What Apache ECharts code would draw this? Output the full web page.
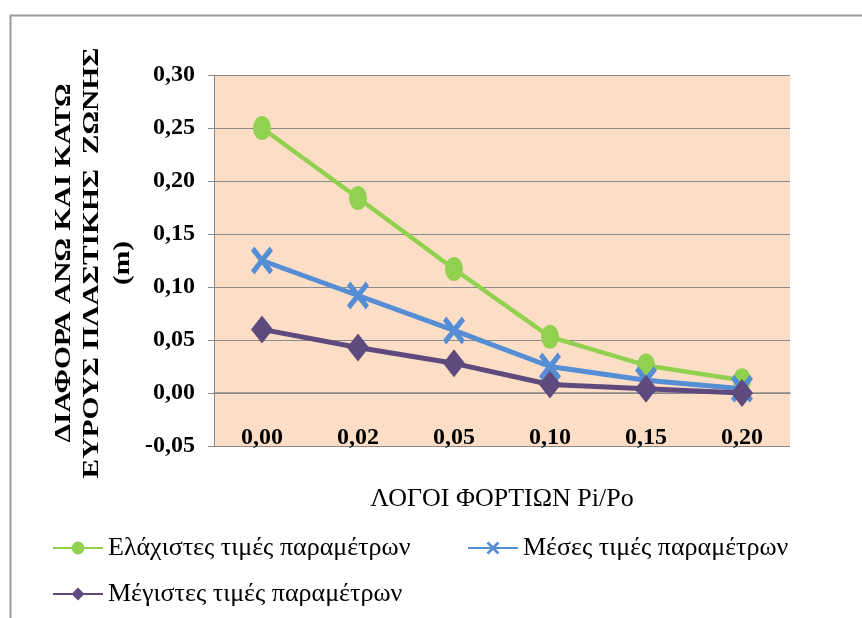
<!DOCTYPE html>
<html>
<head>
<meta charset="utf-8">
<style>
  html, body { margin: 0; padding: 0; background: #ffffff; }
  #chart { width: 862px; height: 618px; }
</style>
<script src="https://cdn.jsdelivr.net/npm/echarts@6/dist/echarts.min.js"></script>
</head>
<body>
<div id="chart"></div>
<script>
// Load ratio categories Pi/Po
const categories = ['0,00', '0,02', '0,05', '0,10', '0,15', '0,20'];

// Difference between upper and lower plastic-zone width (m)
const minParams = [0.250, 0.184, 0.117, 0.053, 0.026, 0.012];
const meanParams = [0.125, 0.092, 0.059, 0.025, 0.012, 0.004];
const maxParams = [0.060, 0.043, 0.028, 0.008, 0.004, 0.000];

const seriesNames = [
  'Ελάχιστες τιμές παραμέτρων',
  'Μέσες τιμές παραμέτρων',
  'Μέγιστες τιμές παραμέτρων'
];

const yTitleLines = ['ΔΙΑΦΟΡΑ ΑΝΩ ΚΑΙ ΚΑΤΩ', 'ΕΥΡΟΥΣ ΠΛΑΣΤΙΚΗΣ  ΖΩΝΗΣ', '(m)'];
const xTitle = 'ΛΟΓΟΙ ΦΟΡΤΙΩΝ Pi/Po';

const FONT = 'Liberation Serif';
const GREEN = '#92D050';
const BLUE = '#558ED5';
const PURPLE = '#5F4A7D';
const GRID_GRAY = '#8A8A8A';

// Thick "X" marker
const crossPath = 'path://M0,3 L3,0 L10,7 L17,0 L20,3 L13,10 L20,17 L17,20 L10,13 L3,20 L0,17 L7,10 Z';

const chart = echarts.init(document.getElementById('chart'), null, { renderer: 'canvas' });

function legendAt(name, left, top) {
  return {
    data: [name],
    left: left,
    top: top,
    orient: 'horizontal',
    itemWidth: 50,
    itemHeight: 16,
    itemGap: 0,
    textStyle: { fontFamily: FONT, fontSize: 26, color: '#000' }
  };
}

function yTitleText(line, x) {
  return {
    type: 'text',
    x: x,
    y: 263,
    rotation: Math.PI / 2,
    scaleX: 1.28,
    style: {
      text: line,
      fontFamily: FONT,
      fontWeight: 'bold',
      fontSize: 23,
      fill: '#000',
      align: 'center',
      verticalAlign: 'middle'
    }
  };
}

const option = {
  backgroundColor: '#ffffff',
  animation: false,
  textStyle: { fontFamily: FONT },
  grid: {
    left: 214, top: 75, right: 72, bottom: 172,
    show: true,
    backgroundColor: '#FCDEC6',
    borderWidth: 0
  },
  legend: [
    legendAt(seriesNames[0], 47, 530),
    legendAt(seriesNames[1], 462, 530),
    legendAt(seriesNames[2], 47, 576)
  ],
  xAxis: {
    type: 'category',
    data: categories,
    boundaryGap: true,
    position: 'bottom',
    name: xTitle,
    nameLocation: 'middle',
    nameGap: 40,
    nameTextStyle: { fontFamily: FONT, fontSize: 26, color: '#000' },
    axisLine: { show: true, lineStyle: { color: GRID_GRAY, width: 1.5 } },
    axisTick: { show: false },
    axisLabel: {
      inside: true,
      margin: -4,
      fontFamily: FONT,
      fontWeight: 'bold',
      fontSize: 24,
      color: '#000'
    },
    splitLine: { show: false }
  },
  yAxis: {
    type: 'value',
    min: -0.05,
    max: 0.30,
    interval: 0.05,
    axisLine: { show: true, lineStyle: { color: GRID_GRAY, width: 1 } },
    axisTick: { show: true, length: 6, lineStyle: { color: GRID_GRAY, width: 1 } },
    axisLabel: {
      margin: 19,
      fontFamily: FONT,
      fontWeight: 'bold',
      fontSize: 24,
      color: '#000',
      formatter: v => v.toFixed(2).replace('.', ',')
    },
    splitLine: { show: true, lineStyle: { color: GRID_GRAY, width: 1 } }
  },
  series: [
    {
      name: seriesNames[0],
      type: 'line',
      data: minParams,
      symbol: 'circle',
      symbolSize: [18, 24],
      itemStyle: { color: GREEN },
      lineStyle: { color: GREEN, width: 4.5 },
      z: 2
    },
    {
      name: seriesNames[1],
      type: 'line',
      data: meanParams,
      symbol: crossPath,
      symbolSize: [22, 28],
      itemStyle: { color: BLUE },
      lineStyle: { color: BLUE, width: 5 },
      z: 3
    },
    {
      name: seriesNames[2],
      type: 'line',
      data: maxParams,
      symbol: 'diamond',
      symbolSize: [22, 28],
      itemStyle: { color: PURPLE },
      lineStyle: { color: PURPLE, width: 5 },
      z: 4
    }
  ],
  graphic: [
    {
      type: 'rect',
      shape: { x: 10.5, y: 15.5, width: 900, height: 700 },
      style: { fill: 'none', stroke: '#9A9A9A', lineWidth: 2 },
      silent: true,
      z: -10
    },
    yTitleText(yTitleLines[0], 64),
    yTitleText(yTitleLines[1], 92),
    yTitleText(yTitleLines[2], 123)
  ]
};

chart.setOption(option);
</script>
</body>
</html>
